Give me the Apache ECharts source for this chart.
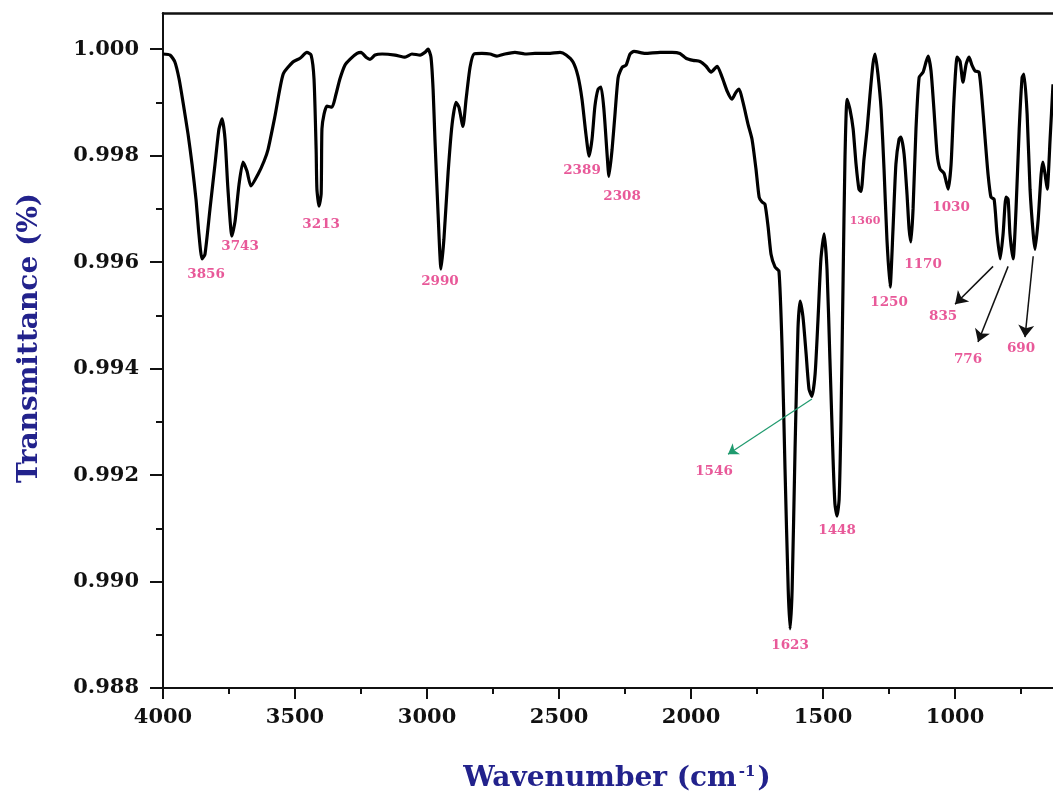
<!DOCTYPE html>
<html>
<head>
<meta charset="utf-8">
<script src="https://cdn.jsdelivr.net/npm/echarts@6/dist/echarts.min.js"></script>
<style>
html,body{margin:0;padding:0;background:#fff;}
#chart{width:1053px;height:802px;}
</style>
</head>
<body>
<div id="chart"></div>
<script>
// Spectrum
const wavenumber = [4000,3973,3955,3939,3924,3905,3890,3875,3864,3852,3841,3822,3803,3788,3776,3765,3754,3739,3727,3712,3697,3682,3667,3640,3617,3602,3576,3545,3508,3481,3455,3439,3428,3420,3417,3409,3401,3398,3390,3379,3360,3345,3330,3311,3292,3265,3250,3231,3216,3197,3170,3121,3083,3057,3026,3008,2996,2985,2977,2970,2958,2947,2936,2920,2905,2890,2879,2864,2852,2837,2822,2792,2761,2735,2705,2667,2629,2591,2542,2496,2473,2447,2428,2413,2398,2386,2375,2364,2352,2341,2330,2318,2311,2299,2288,2276,2261,2246,2231,2216,2174,2117,2072,2042,2019,1992,1966,1943,1924,1901,1882,1863,1845,1830,1818,1803,1784,1769,1754,1742,1731,1720,1708,1697,1682,1667,1655,1644,1632,1625,1617,1606,1595,1587,1576,1564,1553,1542,1530,1519,1508,1496,1485,1474,1462,1455,1447,1439,1432,1424,1417,1409,1398,1386,1375,1364,1356,1345,1333,1322,1311,1303,1292,1280,1269,1258,1246,1235,1224,1212,1205,1193,1182,1174,1167,1159,1148,1136,1121,1110,1102,1091,1080,1068,1057,1042,1034,1026,1015,1004,992,981,970,958,947,936,924,909,898,886,875,864,852,841,829,818,807,799,792,780,769,757,746,739,727,716,704,697,685,674,667,659,651,640,629];
const transmittance = [0.99991,0.99989,0.99976,0.99944,0.99900,0.99840,0.99784,0.99718,0.99653,0.99606,0.99615,0.99700,0.99784,0.99850,0.99869,0.99831,0.99737,0.99649,0.99677,0.99746,0.99788,0.99771,0.99743,0.99765,0.99790,0.99812,0.99874,0.99953,0.99976,0.99983,0.99994,0.99989,0.99944,0.99812,0.99737,0.99705,0.99728,0.99850,0.99878,0.99893,0.99891,0.99915,0.99944,0.99970,0.99981,0.99992,0.99994,0.99985,0.99981,0.99989,0.99991,0.99989,0.99985,0.99991,0.99989,0.99994,1.00000,0.99985,0.99925,0.99831,0.99690,0.99587,0.99643,0.99769,0.99859,0.99900,0.99891,0.99855,0.99906,0.99966,0.99991,0.99992,0.99991,0.99987,0.99991,0.99994,0.99991,0.99992,0.99992,0.99994,0.99989,0.99976,0.99949,0.99906,0.99840,0.99799,0.99831,0.99893,0.99925,0.99929,0.99887,0.99803,0.99761,0.99812,0.99878,0.99947,0.99966,0.99970,0.99991,0.99996,0.99992,0.99994,0.99994,0.99992,0.99983,0.99979,0.99977,0.99968,0.99957,0.99968,0.99947,0.99921,0.99906,0.99919,0.99925,0.99900,0.99859,0.99831,0.99775,0.99722,0.99713,0.99709,0.99666,0.99615,0.99591,0.99583,0.99437,0.99211,0.98986,0.98911,0.98986,0.99249,0.99474,0.99527,0.99497,0.99427,0.99361,0.99348,0.99390,0.99493,0.99606,0.99653,0.99587,0.99418,0.99230,0.99146,0.99123,0.99155,0.99305,0.99568,0.99793,0.99906,0.99887,0.99850,0.99784,0.99737,0.99733,0.99793,0.99850,0.99915,0.99972,0.99991,0.99953,0.99887,0.99775,0.99643,0.99553,0.99662,0.99784,0.99831,0.99835,0.99803,0.99728,0.99662,0.99638,0.99700,0.99850,0.99947,0.99957,0.99976,0.99987,0.99959,0.99887,0.99803,0.99775,0.99767,0.99752,0.99737,0.99784,0.99906,0.99985,0.99977,0.99938,0.99972,0.99985,0.99970,0.99959,0.99957,0.99906,0.99831,0.99765,0.99722,0.99718,0.99653,0.99606,0.99653,0.99722,0.99718,0.99653,0.99606,0.99700,0.99850,0.99947,0.99953,0.99878,0.99737,0.99653,0.99624,0.99681,0.99765,0.99788,0.99765,0.99737,0.99831,0.99934];

// Axis ticks
const xMajorTicks = [4000,3500,3000,2500,2000,1500,1000];
const xMinorTicks = [3750,3250,2750,2250,1750,1250,750];
const yMajorTicks = [0.988,0.990,0.992,0.994,0.996,0.998,1.000];
const yMinorTicks = [0.989,0.991,0.993,0.995,0.997,0.999];

// Peak annotations (text and anchor in data coordinates)
const peakText = ['3856','3743','3213','2990','2389','2308','1360','1250','1170','1030','835','776','690','1546','1448','1623'];
const peakW    = [3837,3708,3401,2951,2413,2261,1341,1250,1121,1015,1045,951,750,1913,1447,1625];
const peakT    = [0.99577,0.99630,0.99671,0.99564,0.99773,0.99724,0.99677,0.99525,0.99596,0.99703,0.99497,0.99418,0.99438,0.99206,0.99095,0.98879];

// Arrows: start and end in data coordinates
const arrowFromW = [1542,856,799,704];
const arrowFromT = [0.99343,0.99592,0.99592,0.99611];
const arrowToW   = [1860,1000,913,735];
const arrowToT   = [0.99239,0.99521,0.99450,0.99459];
const arrowColor = ['#1f9a6e','#111111','#111111','#111111'];

const FONT = 'DejaVu Serif';
const X_MIN = 629, X_MAX = 4000, Y_MIN = 0.988, Y_MAX = 1.00068;

const chart = echarts.init(document.getElementById('chart'), null, {renderer:'canvas'});

const lineData = wavenumber.map((w,i)=>[w, transmittance[i]]);
const labelData = peakText.map((t,i)=>({
  name: t,
  value: [peakW[i], peakT[i]],
  label: t === '1360' ? {fontSize: 11} : undefined
}));
const arrowData = arrowFromW.map((w,i)=>[
  {coord:[w, arrowFromT[i]], lineStyle:{color: arrowColor[i], width: i === 0 ? 1.2 : 1.5}, itemStyle:{color: arrowColor[i]}},
  {coord:[arrowToW[i], arrowToT[i]], itemStyle:{color: arrowColor[i]}, symbolSize: i === 0 ? 10 : 12}
]);

const axisBase = {
  type:'value', min:X_MIN, max:X_MAX, inverse:true, splitLine:{show:false}
};

chart.setOption({
  animation:false,
  backgroundColor:'#ffffff',
  grid:{left:163, right:0, top:13, bottom:114},
  xAxis:[
    Object.assign({}, axisBase, {
      position:'bottom',
      axisLine:{show:true, onZero:false, lineStyle:{color:'#111', width:2}},
      axisTick:{show:true, customValues:xMajorTicks, length:11, lineStyle:{color:'#111', width:2}},
      axisLabel:{show:true, customValues:xMajorTicks, margin:19, color:'#111', fontFamily:FONT, fontWeight:'bold', fontSize:21,
        formatter:(v)=>String(Math.round(v))}
    }),
    Object.assign({}, axisBase, {
      position:'bottom',
      axisLine:{show:false},
      axisTick:{show:true, customValues:xMinorTicks, length:6, lineStyle:{color:'#111', width:2}},
      axisLabel:{show:false}
    }),
    Object.assign({}, axisBase, {
      position:'top',
      axisLine:{show:true, onZero:false, lineStyle:{color:'#111', width:2.5}},
      axisTick:{show:false},
      axisLabel:{show:false}
    })
  ],
  yAxis:[
    {
      type:'value', min:Y_MIN, max:Y_MAX, position:'left', splitLine:{show:false},
      axisLine:{show:true, onZero:false, lineStyle:{color:'#111', width:2}},
      axisTick:{show:true, customValues:yMajorTicks, length:13, lineStyle:{color:'#111', width:2}},
      axisLabel:{show:true, customValues:yMajorTicks, margin:24, color:'#111', fontFamily:FONT, fontWeight:'bold', fontSize:21,
        formatter:(v)=>v.toFixed(3)}
    },
    {
      type:'value', min:Y_MIN, max:Y_MAX, position:'left', splitLine:{show:false},
      axisLine:{show:false},
      axisTick:{show:true, customValues:yMinorTicks, length:7, lineStyle:{color:'#111', width:2}},
      axisLabel:{show:false}
    }
  ],
  graphic:[
    {
      type:'text', x:30, y:338, rotation:Math.PI/2,
      style:{text:'Transmittance (%)', fill:'#22228c', font:'bold 28px "DejaVu Serif"', align:'center', verticalAlign:'middle'}
    },
    {
      type:'text', x:617, y:779,
      style:{
        text:'Wavenumber (cm{sup|-1})', fill:'#22228c', font:'bold 28px "DejaVu Serif"', align:'center', verticalAlign:'middle',
        rich:{sup:{fontSize:15, fontFamily:FONT, fontWeight:'bold', fill:'#22228c', verticalAlign:'top', padding:[0,2,14,2]}}
      }
    }
  ],
  series:[
    {
      type:'line', xAxisIndex:0, yAxisIndex:0, data:lineData,
      showSymbol:false, symbol:'none', smooth:0.2, clip:true,
      lineStyle:{color:'#000', width:3.2}, z:3
    },
    {
      type:'scatter', xAxisIndex:0, yAxisIndex:0, data:labelData,
      symbol:'circle', symbolSize:1, itemStyle:{color:'rgba(0,0,0,0)'},
      label:{show:true, position:'inside', formatter:(p)=>p.name, color:'#e2307f',
        fontFamily:FONT, fontWeight:'bold', fontSize:13.5},
      silent:true, z:4
    },
    {
      type:'line', xAxisIndex:0, yAxisIndex:0, data:[], z:5,
      markLine:{
        silent:true, symbol:['none','arrow'], symbolSize:12,
        itemStyle:{color:'#111'},
        label:{show:false}, lineStyle:{type:'solid', width:1.4},
        data:arrowData
      }
    }
  ]
});
</script>
</body>
</html>
